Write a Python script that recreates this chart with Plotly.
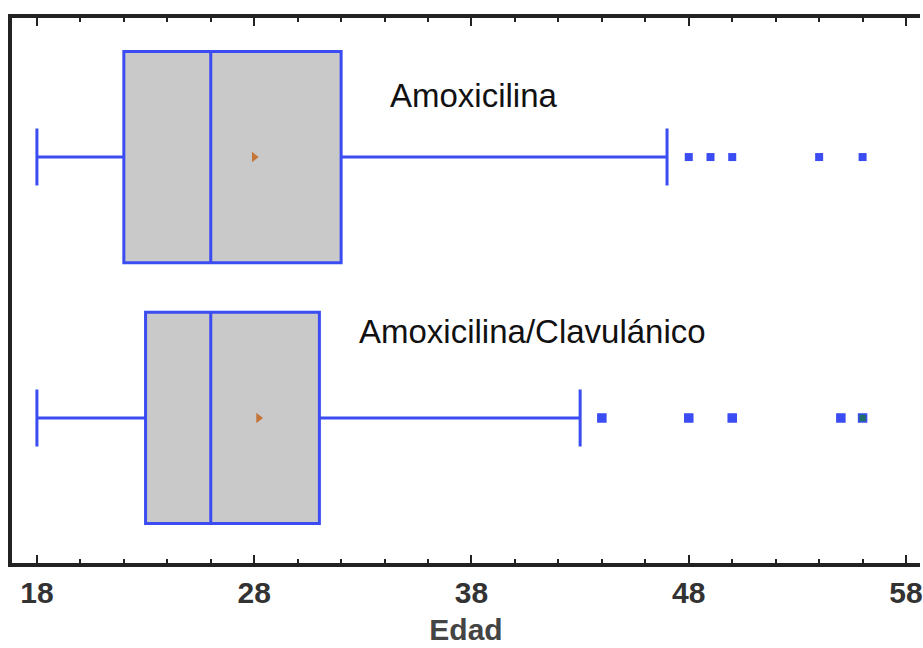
import plotly.graph_objects as go

# ---- data ----
groups = ["Amoxicilina", "Amoxicilina/Clavulánico"]
positions = [1, 0]
lower_fence = [18, 18]
q1 = [22, 23]
median = [26, 26]
q3 = [32, 31]
upper_fence = [47, 43]
means = [28.0, 28.2]
outliers_amox = [48, 49, 50, 54, 56]
outliers_clav = [44, 48, 50, 55, 56]
tick_vals = [18, 28, 38, 48, 58]
label_x = [38.1, 40.8]
label_y = [1.235, 0.33]

BLUE = "#3a4cf2"
GRAY = "#c9c9c9"
ORANGE = "#c4763a"

fig = go.Figure()
for i, g in enumerate(groups):
    fig.add_trace(go.Box(
        y=[positions[i]], orientation="h",
        q1=[q1[i]], median=[median[i]], q3=[q3[i]],
        lowerfence=[lower_fence[i]], upperfence=[upper_fence[i]],
        width=0.81, whiskerwidth=0.27,
        fillcolor=GRAY, line=dict(color=BLUE, width=3),
        boxpoints=False, name=g, showlegend=False, hoverinfo="skip"))

fig.add_trace(go.Scatter(
    x=means, y=positions, mode="markers",
    marker=dict(symbol="triangle-right", size=9, color=ORANGE),
    showlegend=False))

fig.add_trace(go.Scatter(
    x=outliers_amox, y=[positions[0]] * len(outliers_amox), mode="markers",
    marker=dict(symbol="square", size=8, color=BLUE),
    showlegend=False))
clav_colors = [BLUE, BLUE, BLUE, BLUE, "#1f6e6a"]
fig.add_trace(go.Scatter(
    x=outliers_clav, y=[positions[1]] * len(outliers_clav), mode="markers",
    marker=dict(symbol="square", size=8, color=clav_colors,
                line=dict(color=BLUE, width=1.5)),
    showlegend=False))

for i, g in enumerate(groups):
    fig.add_annotation(x=label_x[i], y=label_y[i], text=g, showarrow=False,
                       font=dict(family="Liberation Sans, Arial", size=33, color="#111111"),
                       xanchor="center", yanchor="middle")

fig.update_layout(
    width=923, height=648,
    margin=dict(l=12, r=0, t=18, b=85),
    paper_bgcolor="white", plot_bgcolor="white",
    showlegend=False,
    xaxis=dict(
        range=[16.853, 58.642],
        tickvals=tick_vals, ticktext=[str(v) for v in tick_vals],
        ticks="inside", ticklen=8, tickwidth=2, tickcolor="#222",
        ticklabeloverflow="allow",
        minor=dict(dtick=2, tick0=18, ticks="inside", ticklen=4, tickwidth=2, tickcolor="#222", showgrid=False),
        showline=True, linecolor="#222", linewidth=4, mirror="allticks",
        showgrid=False, zeroline=False,
        tickfont=dict(family="Liberation Sans, Arial", size=30, color="#333333", weight="bold"),
        title=dict(text="Edad", standoff=12,
                   font=dict(family="Liberation Sans, Arial", size=30, color="#444444", weight="bold")),
    ),
    yaxis=dict(
        range=[-0.556, 1.533],
        showline=True, linecolor="#222", linewidth=4, mirror=False,
        showticklabels=False, ticks="", showgrid=False, zeroline=False,
    ),
)

fig.write_html("out.html")
